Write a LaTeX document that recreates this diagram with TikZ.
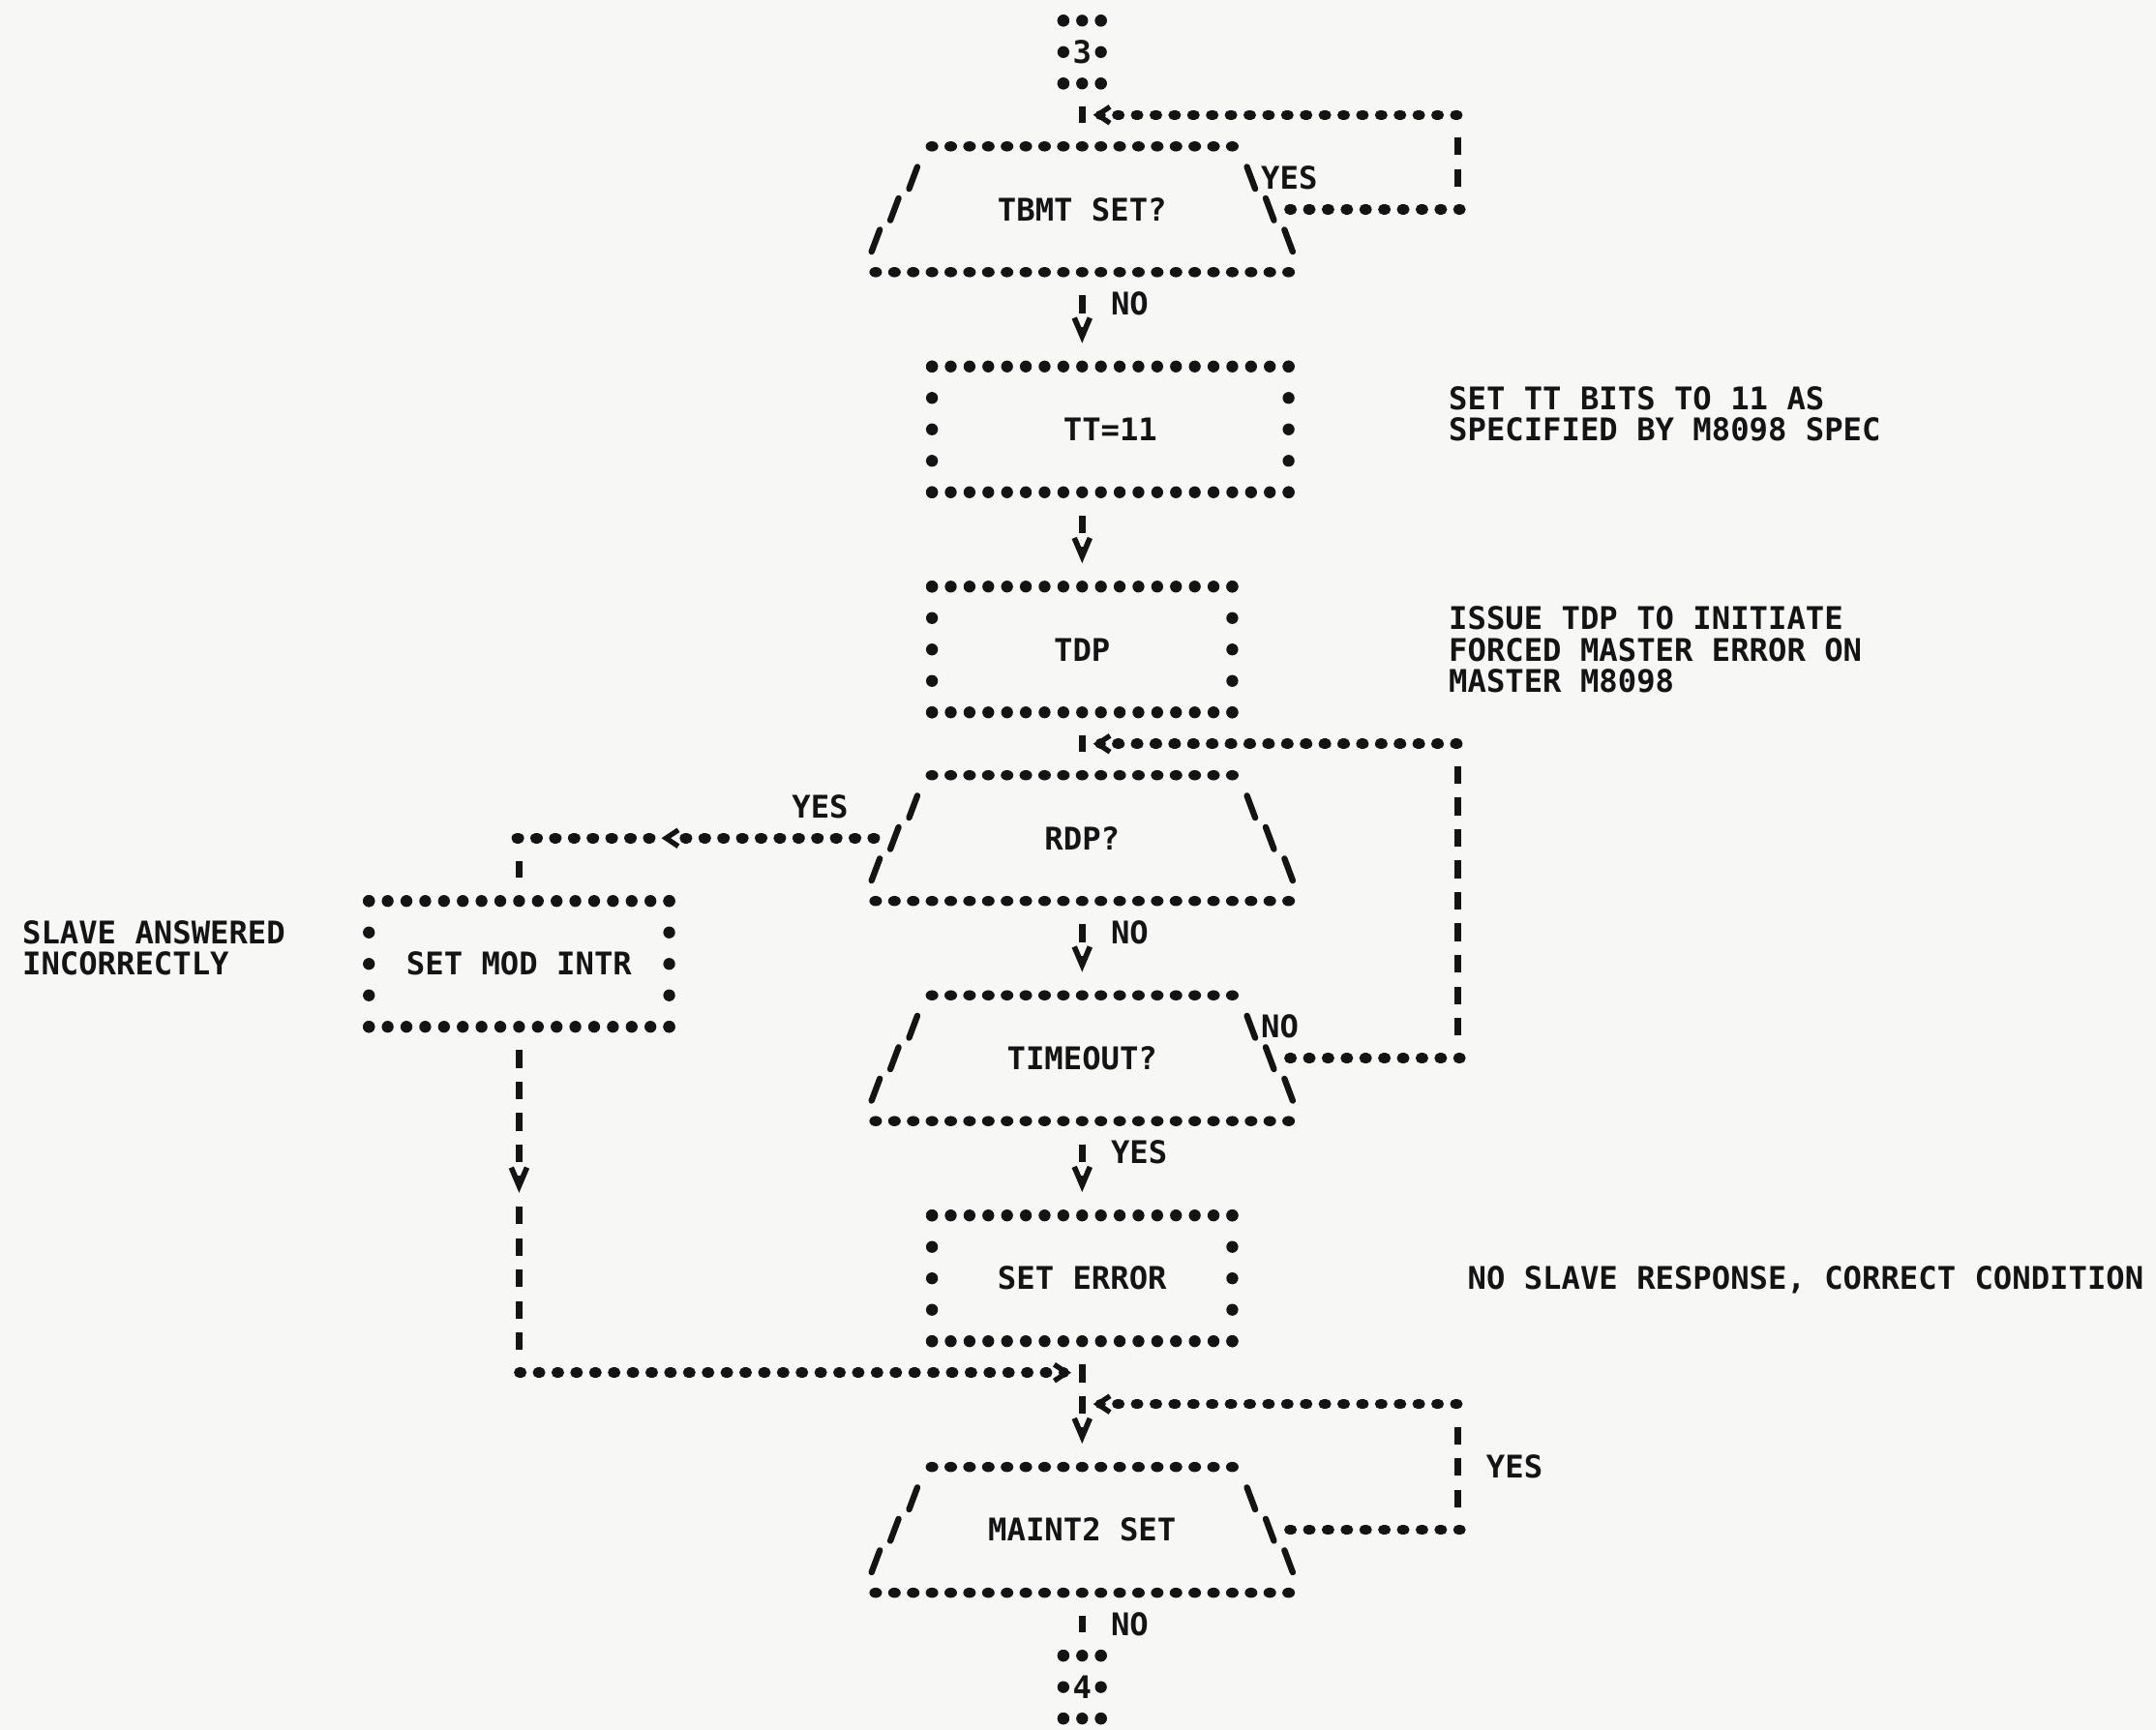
\documentclass[tikz,border=0pt]{standalone}
\usepackage{fontspec}
\setmonofont{DejaVu Sans Mono}
\usetikzlibrary{arrows.meta}
\definecolor{PrintInk}{RGB}{20,20,20}
\definecolor{PaperTone}{RGB}{247,247,246}

% character grid of the listing: column and row centres
\newcommand{\colx}[1]{787+13.65*(#1)}
\newcommand{\rowy}[1]{15+22.87*(#1)}

% printed border characters
\newcommand{\dashrow}[3]{\foreach \cc in {#1,...,#2} \fill[PrintInk] ({\colx{\cc}},{\rowy{#3}}) ellipse[x radius=1.85pt, y radius=1.5pt];}
\newcommand{\starrow}[3]{\foreach \cc in {#1,...,#2} \fill[PrintInk] ({\colx{\cc}},{\rowy{#3}}) circle[radius=1.75pt];}
\newcommand{\starcol}[3]{\foreach \rr in {#2,...,#3} \fill[PrintInk] ({\colx{#1}},{\rowy{\rr}}) circle[radius=1.75pt];}
\newcommand{\starbox}[4]{\starrow{#1}{#2}{#3}\starrow{#1}{#2}{#4}\starcol{#1}{#3}{#4}\starcol{#2}{#3}{#4}}
\newcommand{\trapbox}[1]{%
  \dashrow{-8}{8}{#1}\dashrow{-11}{11}{#1+4}%
  \foreach \kk in {1,2,3} {%
    \draw[slashmark] ({\colx{-8-\kk}+3},{\rowy{#1+\kk}-8}) -- ({\colx{-8-\kk}-3},{\rowy{#1+\kk}+8});
    \draw[slashmark] ({\colx{8+\kk}-3},{\rowy{#1+\kk}-8}) -- ({\colx{8+\kk}+3},{\rowy{#1+\kk}+8});
  }}

\tikzset{
  lbl/.style={font=\ttfamily\bfseries\fontsize{9.17}{9.25}\selectfont, text=PrintInk, inner sep=0pt, text height=6.7pt, text depth=0pt},
  decision/.style={lbl, minimum width=121.4pt, minimum height=37pt},
  procbox/.style={lbl, minimum width=88.3pt, minimum height=37pt},
  offpage/.style={lbl, minimum width=11.04pt, minimum height=18.5pt},
  note/.style={lbl, anchor=west},
  iline/.style={PrintInk, line width=2pt, dash pattern=on 5.2pt off 4.05pt, shorten <=6.65pt, shorten >=6.65pt},
  dline/.style={PrintInk, line width=3pt, line cap=round, dash pattern=on 0.7pt off 4.82pt, shorten >=-0.9pt},
  vtip/.style={-{Straight Barb[length=5.4pt, width=4.6pt, line width=1.6pt]}},
  ltip/.style={-{Straight Barb[length=3.6pt, width=4.8pt, line width=1.5pt]}},
  slashmark/.style={PrintInk, line width=1.8pt, line cap=round}
}

\begin{document}
\begin{tikzpicture}[x=0.0142092cm, y=-0.0142092cm]
  \useasboundingbox (0,0) rectangle (1568,1258);
  \fill[PaperTone] (0,0) rectangle (1568,1258);

  % flow nodes
  \node[offpage] (con3) at ({\colx{0}},{\rowy{1}}) {3};
  \node[decision] (tbmt) at ({\colx{0}},{\rowy{6}}) {TBMT SET?};
  \node[procbox, minimum width=104.9pt] (tt) at ({\colx{1.5}},{\rowy{13}}) {TT=11~};
  \node[procbox] (tdp) at ({\colx{0}},{\rowy{20}}) {TDP};
  \node[decision] (rdp) at ({\colx{0}},{\rowy{26}}) {RDP?~};
  \node[procbox] (modintr) at ({\colx{-30}},{\rowy{30}}) {SET MOD INTR~};
  \node[decision] (tmo) at ({\colx{0}},{\rowy{33}}) {TIMEOUT?~};
  \node[procbox] (seterr) at ({\colx{0}},{\rowy{40}}) {SET ERROR};
  \node[decision] (mnt) at ({\colx{0}},{\rowy{48}}) {MAINT2 SET~};
  \node[offpage] (con4) at ({\colx{0}},{\rowy{53}}) {4};

  % borders
  \starbox{-1}{1}{0}{2}
  \trapbox{4}
  \starbox{-8}{11}{11}{15}
  \starbox{-8}{8}{18}{22}
  \trapbox{24}
  \starbox{-38}{-22}{28}{32}
  \trapbox{31}
  \starbox{-8}{8}{38}{42}
  \trapbox{46}
  \starbox{-1}{1}{52}{54}

  % comments and branch labels
  \node[note] (ttnote1) at ({\colx{19.5}},{\rowy{12}}) {SET TT BITS TO 11 AS};
  \node[note] (ttnote2) at ({\colx{19.5}},{\rowy{13}}) {SPECIFIED BY M8098 SPEC};
  \node[note] (tdpnote1) at ({\colx{19.5}},{\rowy{19}}) {ISSUE TDP TO INITIATE};
  \node[note] (tdpnote2) at ({\colx{19.5}},{\rowy{20}}) {FORCED MASTER ERROR ON};
  \node[note] (tdpnote3) at ({\colx{19.5}},{\rowy{21}}) {MASTER M8098};
  \node[note] (slavenote1) at ({\colx{-56.5}},{\rowy{29}}) {SLAVE ANSWERED};
  \node[note] (slavenote2) at ({\colx{-56.5}},{\rowy{30}}) {INCORRECTLY};
  \node[note] (errnote) at ({\colx{20.5}},{\rowy{40}}) {NO SLAVE RESPONSE, CORRECT CONDITION};
  \node[note] (tbmtyes) at ({\colx{9.5}},{\rowy{5}}) {YES};
  \node[note] (tbmtno) at ({\colx{1.5}},{\rowy{9}}) {NO};
  \node[note] (rdpyes) at ({\colx{-15.5}},{\rowy{25}}) {YES};
  \node[note] (rdpno) at ({\colx{1.5}},{\rowy{29}}) {NO};
  \node[note] (tmono) at ({\colx{9.5}},{\rowy{32}}) {NO};
  \node[note] (tmoyes) at ({\colx{1.5}},{\rowy{36}}) {YES};
  \node[note] (mntyes) at ({\colx{21.5}},{\rowy{46}}) {YES};
  \node[note] (mntno) at ({\colx{1.5}},{\rowy{51}}) {NO};

  % main column
  \draw[iline] (con3.south) -- (tbmt.north);
  \draw[iline, vtip] (tbmt.south) -- (tbmt.south |- tt.north);
  \draw[iline, vtip] (tbmt.south |- tt.south) -- (tdp.north);
  \draw[iline] (tdp.south) -- (rdp.north);
  \draw[iline, vtip] (rdp.south) -- (tmo.north);
  \draw[iline, vtip] (tmo.south) -- (seterr.north);
  \draw[iline, vtip] (seterr.south) -- (mnt.north);
  \draw[iline] (mnt.south) -- (con4.north);

  % TBMT loop
  \coordinate (tbmtcr) at ({\colx{20}},{\rowy{6}});
  \coordinate (tbmtcu) at ({\colx{20}},{\rowy{3}});
  \coordinate (tbmtin) at ({\colx{0.75}},{\rowy{3}});
  \draw[dline] (tbmt.east) -- (tbmtcr);
  \draw[iline] (tbmtcr) -- (tbmtcu);
  \draw[dline, ltip] (tbmtcu) -- (tbmtin);

  % RDP yes branch
  \coordinate (yesin) at ({\colx{-22.25}},{\rowy{26}});
  \coordinate (yesout) at ({\colx{-23}},{\rowy{26}});
  \coordinate (yescr) at ({\colx{-30}},{\rowy{26}});
  \draw[dline, ltip] (rdp.west) -- (yesin);
  \draw[dline] (yesout) -- (yescr);
  \draw[iline] (yescr) -- (modintr.north);

  % SET MOD INTR back to the main column
  \coordinate (errmid) at ({\colx{-30}},{\rowy{37}});
  \coordinate (errv) at ({\colx{-30}},{\rowy{38}});
  \coordinate (errcr) at ({\colx{-30}},{\rowy{43}});
  \coordinate (joinin) at ({\colx{-0.75}},{\rowy{43}});
  \draw[iline, vtip] (modintr.south) -- (errv);
  \draw[iline] (errmid) -- (errcr);
  \draw[dline, ltip] (errcr) -- (joinin);

  % TIMEOUT loop
  \coordinate (tmocr) at ({\colx{20}},{\rowy{33}});
  \coordinate (tmocu) at ({\colx{20}},{\rowy{23}});
  \coordinate (tmoin) at ({\colx{0.75}},{\rowy{23}});
  \draw[dline] (tmo.east) -- (tmocr);
  \draw[iline] (tmocr) -- (tmocu);
  \draw[dline, ltip] (tmocu) -- (tmoin);

  % MAINT2 loop
  \coordinate (mntcr) at ({\colx{20}},{\rowy{48}});
  \coordinate (mntcu) at ({\colx{20}},{\rowy{44}});
  \coordinate (mntin) at ({\colx{0.75}},{\rowy{44}});
  \draw[dline] (mnt.east) -- (mntcr);
  \draw[iline] (mntcr) -- (mntcu);
  \draw[dline, ltip] (mntcu) -- (mntin);
\end{tikzpicture}
\end{document}
